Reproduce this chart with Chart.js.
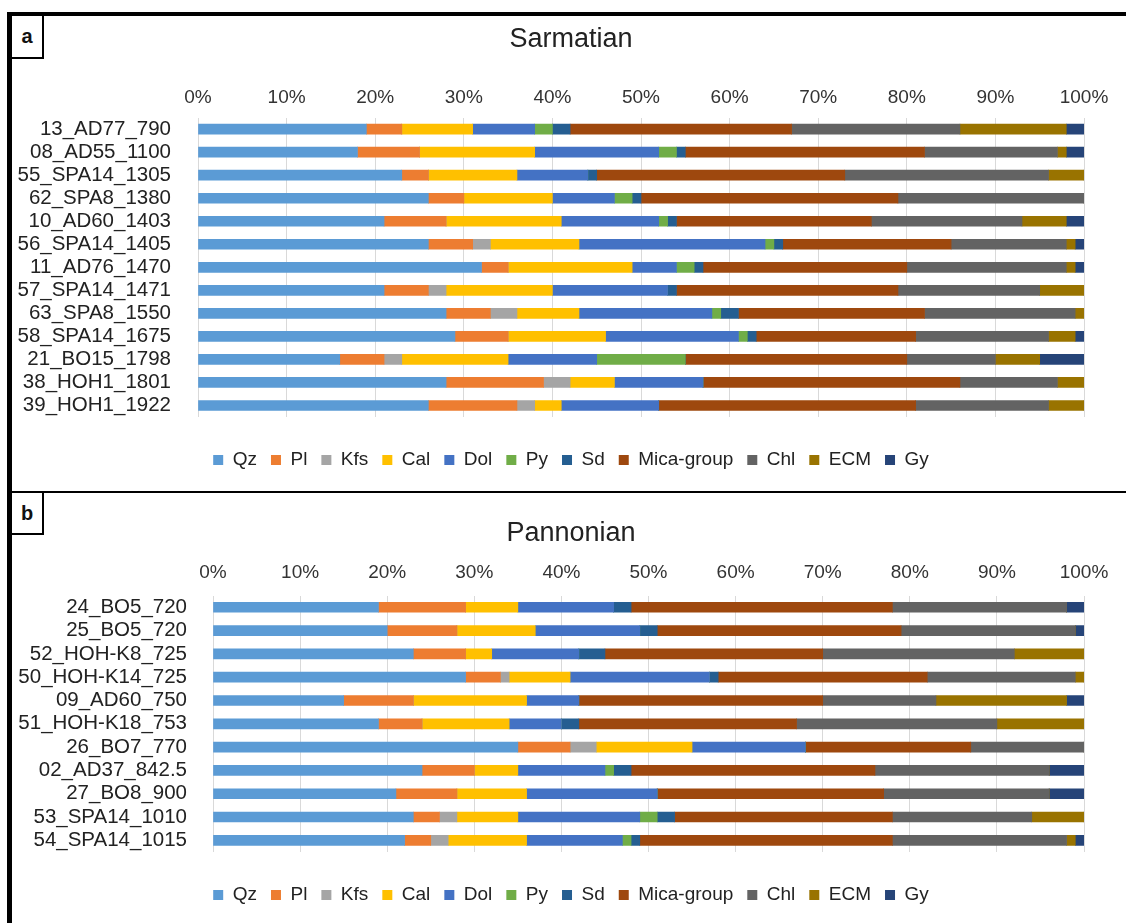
<!DOCTYPE html>
<html>
<head>
<meta charset="utf-8">
<title>Sarmatian / Pannonian mineral composition</title>
<script src="https://cdn.jsdelivr.net/npm/chart.js@4.4.1/dist/chart.umd.min.js"></script>
<style>
  html, body { margin: 0; padding: 0; background: #fff; }
  body { width: 1126px; height: 923px; position: relative; overflow: hidden;
         font-family: "Liberation Sans", Arial, sans-serif; }
  canvas { position: absolute; left: 12px; }
  #chartA { top: 16px; }
  #chartB { top: 494px; }
  .rule { position: absolute; background: #000; }
  .tag { position: absolute; box-sizing: border-box; background: #fff;
         border-right: 2px solid #000; border-bottom: 2px solid #000;
         font-weight: bold; font-size: 20px; color: #111;
         display: flex; align-items: center; justify-content: center; }
</style>
</head>
<body>
<canvas id="chartA" width="1114" height="476"></canvas>
<canvas id="chartB" width="1114" height="429"></canvas>

<!-- figure frame and panel tags -->
<div class="rule" style="left:7px;top:12px;width:1119px;height:4px;"></div>
<div class="rule" style="left:7px;top:12px;width:5px;height:911px;"></div>
<div class="rule" style="left:12px;top:491px;width:1114px;height:2px;"></div>
<div class="tag" style="left:12px;top:16px;width:32px;height:43px;">a</div>
<div class="tag" style="left:12px;top:493px;width:32px;height:42px;">b</div>

<script>
// Mineral classes and their fill colours
const minerals = ['Qz', 'Pl', 'Kfs', 'Cal', 'Dol', 'Py', 'Sd', 'Mica-group', 'Chl', 'ECM', 'Gy'];
const mineralColors = ['#5B9BD5', '#ED7D31', '#A5A5A5', '#FFC000', '#4472C4', '#70AD47',
                       '#255E91', '#9E480E', '#636363', '#997300', '#264478'];
const pctTickLabels = ['0%', '10%', '20%', '30%', '40%', '50%', '60%', '70%', '80%', '90%', '100%'];

// Sarmatian samples (wt %)
const sarSamples = ['13_AD77_790', '08_AD55_1100', '55_SPA14_1305', '62_SPA8_1380', '10_AD60_1403',
                    '56_SPA14_1405', '11_AD76_1470', '57_SPA14_1471', '63_SPA8_1550', '58_SPA14_1675',
                    '21_BO15_1798', '38_HOH1_1801', '39_HOH1_1922'];
const sarQz   = [19, 18, 23, 26, 21, 26, 32, 21, 28, 29, 16, 28, 26];
const sarPl   = [4, 7, 3, 4, 7, 5, 3, 5, 5, 6, 5, 11, 10];
const sarKfs  = [0, 0, 0, 0, 0, 2, 0, 2, 3, 0, 2, 3, 2];
const sarCal  = [8, 13, 10, 10, 13, 10, 14, 12, 7, 11, 12, 5, 3];
const sarDol  = [7, 14, 8, 7, 11, 21, 5, 13, 15, 15, 10, 10, 11];
const sarPy   = [2, 2, 0, 2, 1, 1, 2, 0, 1, 1, 10, 0, 0];
const sarSd   = [2, 1, 1, 1, 1, 1, 1, 1, 2, 1, 0, 0, 0];
const sarMica = [25, 27, 28, 29, 22, 19, 23, 25, 21, 18, 25, 29, 29];
const sarChl  = [19, 15, 23, 21, 17, 13, 18, 16, 17, 15, 10, 11, 15];
const sarECM  = [12, 1, 4, 0, 5, 1, 1, 5, 1, 3, 5, 3, 4];
const sarGy   = [2, 2, 0, 0, 2, 1, 1, 0, 0, 1, 5, 0, 0];

// Pannonian samples (wt %)
const panSamples = ['24_BO5_720', '25_BO5_720', '52_HOH-K8_725', '50_HOH-K14_725', '09_AD60_750',
                    '51_HOH-K18_753', '26_BO7_770', '02_AD37_842.5', '27_BO8_900', '53_SPA14_1010',
                    '54_SPA14_1015'];
const panQz   = [19, 20, 23, 29, 15, 19, 35, 24, 21, 23, 22];
const panPl   = [10, 8, 6, 4, 8, 5, 6, 6, 7, 3, 3];
const panKfs  = [0, 0, 0, 1, 0, 0, 3, 0, 0, 2, 2];
const panCal  = [6, 9, 3, 7, 13, 10, 11, 5, 8, 7, 9];
const panDol  = [11, 12, 10, 16, 6, 6, 13, 10, 15, 14, 11];
const panPy   = [0, 0, 0, 0, 0, 0, 0, 1, 0, 2, 1];
const panSd   = [2, 2, 3, 1, 0, 2, 0, 2, 0, 2, 1];
const panMica = [30, 28, 25, 24, 28, 25, 19, 28, 26, 25, 29];
const panChl  = [20, 20, 22, 17, 13, 23, 13, 20, 19, 16, 20];
const panECM  = [0, 0, 8, 1, 15, 10, 0, 0, 0, 6, 1];
const panGy   = [2, 1, 0, 0, 2, 0, 0, 4, 4, 0, 1];

const sarSeries = [sarQz, sarPl, sarKfs, sarCal, sarDol, sarPy, sarSd, sarMica, sarChl, sarECM, sarGy];
const panSeries = [panQz, panPl, panKfs, panCal, panDol, panPy, panSd, panMica, panChl, panECM, panGy];

Chart.defaults.font.family = '"Liberation Sans", Arial, sans-serif';
Chart.defaults.color = '#333';

function stackedPanel(canvasId, title, samples, series, g) {
  const datasets = minerals.map((name, i) => ({
    label: name,
    data: series[i],
    backgroundColor: mineralColors[i],
    borderColor: mineralColors[i],
    borderWidth: 0,
    barThickness: g.bar
  }));
  return new Chart(document.getElementById(canvasId), {
    type: 'bar',
    data: { labels: samples, datasets },
    options: {
      indexAxis: 'y',
      responsive: false,
      animation: false,
      devicePixelRatio: 1,
      events: [],
      layout: { padding: { left: 4, right: 0, top: 0, bottom: g.padBottom } },
      scales: {
        x: {
          position: 'top',
          stacked: true,
          min: 0, max: 100,
          ticks: {
            stepSize: 10, autoSkip: false, maxRotation: 0,
            padding: g.xTickPad,
            font: { size: 19 }, color: '#333',
            callback: (v, i) => pctTickLabels[i]
          },
          grid: { color: '#d9d9d9', lineWidth: 1, drawTicks: false },
          border: { display: false },
          afterFit: (s) => { s.height = g.xAxisH; }
        },
        y: {
          stacked: true,
          ticks: { autoSkip: false, padding: g.yTickPad, font: { size: 20.5 }, color: '#222' },
          grid: { display: false },
          border: { display: false },
          afterFit: (s) => { s.width = g.yAxisW; }
        },
        // empty right-hand gutter so the plot ends at 100% well inside the frame
        gutter: {
          type: 'linear',
          position: 'right',
          ticks: { display: false },
          grid: { display: false },
          border: { display: false },
          afterFit: (s) => { s.width = 42; }
        }
      },
      plugins: {
        title: {
          display: true, text: title, color: '#222',
          font: { size: 27, weight: 'normal' },
          padding: { top: g.titlePadTop, bottom: 0 }
        },
        legend: {
          position: 'bottom',
          title: { display: true, text: '', font: { size: 10 }, padding: { top: 7.5, bottom: 0 } },
          labels: { boxWidth: 10, boxHeight: 10, padding: 14, font: { size: 19 }, color: '#222' }
        },
        tooltip: { enabled: false }
      }
    }
  });
}

stackedPanel('chartA', 'Sarmatian', sarSamples, sarSeries,
  { bar: 10, titlePadTop: 7.8, xAxisH: 61.4, xTickPad: 8.6, yAxisW: 182, yTickPad: 19, padBottom: 12.5 });
stackedPanel('chartB', 'Pannonian', panSamples, panSeries,
  { bar: 10, titlePadTop: 23.8, xAxisH: 45.4, xTickPad: 11.6, yAxisW: 197, yTickPad: 18, padBottom: 8.5 });
</script>
</body>
</html>
